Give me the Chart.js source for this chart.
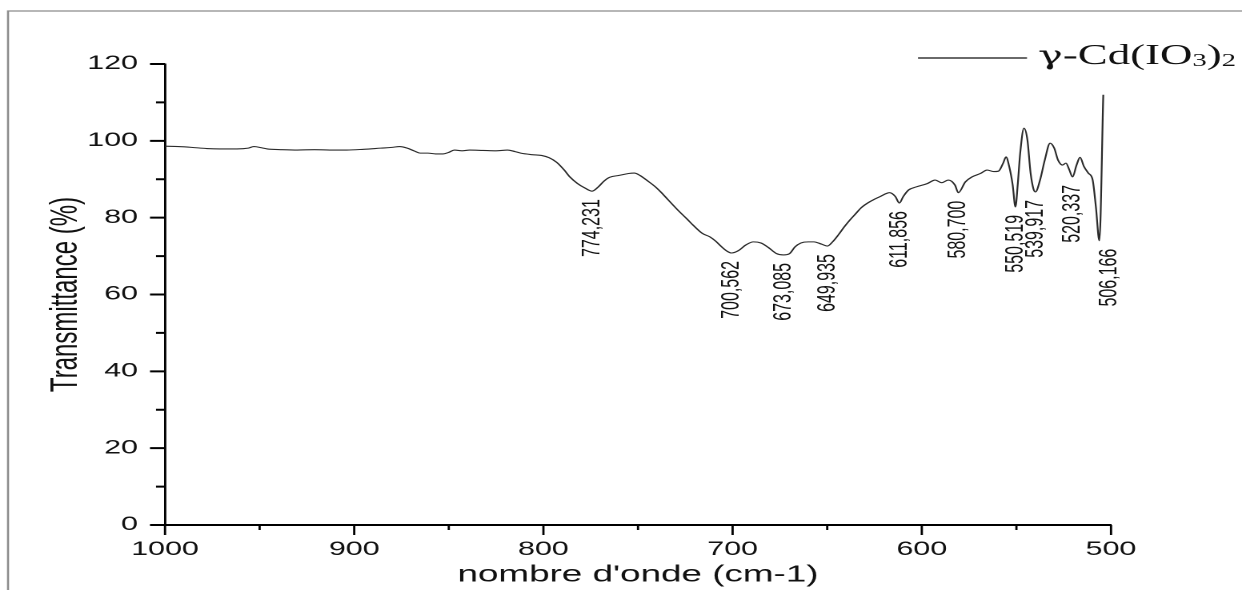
<!DOCTYPE html>
<html>
<head>
<meta charset="utf-8">
<script src="https://cdn.jsdelivr.net/npm/chart.js@4.4.1/dist/chart.umd.min.js"></script>
<style>
  html, body { margin: 0; padding: 0; background: #fff; overflow: hidden; }
  /* the figure is drawn narrow and widened, like the exported plot */
  #wrap { width: 776px; height: 590px; transform: scaleX(1.60052); transform-origin: 0 0; }
</style>
</head>
<body>
<div id="wrap"><canvas id="irChart" width="776" height="590"></canvas></div>
<script>
const SX = 1242 / 776;

// IR spectrum, wavenumber (cm-1) vs transmittance (%)
const wavenumbers = [
    1000, 993, 986, 978, 971, 962, 956, 953, 949, 946,
    938, 930, 921, 913, 904, 895, 886, 880, 876, 872,
    868, 865, 861, 857, 853, 850, 847, 843, 839, 832,
    825, 819, 815, 812, 806, 801, 797, 793, 789, 786,
    782, 778, 774.231, 771, 768, 765, 760, 755, 752, 749,
    745, 741, 738, 734, 729, 724, 721, 716, 712, 709,
    706, 703, 700.562, 697, 693, 689, 685, 681, 677, 673.085,
    670, 667, 664, 660, 657, 653, 649.935, 647, 644, 641,
    638, 635, 632, 628, 625, 622, 617, 614, 611.856, 609.8,
    607, 603, 597, 593, 589.5, 586, 582.5, 580.7, 577, 573.5,
    569, 565.5, 562, 559.5, 557, 555.5, 553.8, 552, 550.519, 549.3,
    548, 546, 544.2, 542.5, 541, 539.917, 537.5, 535, 532.2, 530,
    528, 525.6, 523.8, 522, 520.337, 518.2, 516.4, 514.3, 512, 509.7,
    508, 506.166, 504.1
];
const transmittance = [
    98.6, 98.5, 98.3, 98.0, 97.9, 97.9, 98.1, 98.5, 98.2, 97.9,
    97.7, 97.6, 97.7, 97.6, 97.6, 97.8, 98.1, 98.3, 98.5, 98.1,
    97.3, 96.8, 96.8, 96.6, 96.6, 97.0, 97.6, 97.4, 97.6, 97.5,
    97.4, 97.6, 97.2, 96.8, 96.4, 96.2, 95.6, 94.4, 92.4, 90.6,
    88.9, 87.7, 86.9, 88.0, 89.5, 90.5, 91.0, 91.5, 91.6, 91.0,
    89.6, 88.1, 86.7, 84.6, 82.0, 79.6, 78.1, 75.9, 75.0, 73.9,
    72.5, 71.3, 70.8, 71.4, 72.9, 73.7, 73.4, 72.2, 70.7, 70.3,
    70.6, 72.4, 73.4, 73.7, 73.7, 73.1, 72.6, 73.8, 75.6, 77.6,
    79.4, 81.0, 82.6, 84.0, 84.8, 85.5, 86.5, 85.5, 83.8, 85.5,
    87.2, 88.0, 88.9, 89.8, 89.1, 89.8, 88.5, 86.5, 89.3, 90.6,
    91.5, 92.4, 92.0, 92.1, 94.2, 95.8, 93.3, 88.6, 82.8, 88.6,
    96.8, 103.3, 100.3, 91.6, 87.5, 86.7, 89.8, 95.0, 99.4, 98.1,
    95.0, 93.7, 94.2, 92.4, 90.6, 93.7, 95.7, 93.3, 91.6, 89.8,
    82.8, 74.0, 112.0
];

// labelled absorption bands
const peakWavenumbers = [774.231, 700.562, 673.085, 649.935, 611.856, 580.700, 550.519, 539.917, 520.337, 506.166];

const xTickValues = [1000, 900, 800, 700, 600, 500];
const xMinorTicks = [950, 850, 750, 650, 550];
const yTickValues = [0, 20, 40, 60, 80, 100, 120];
const yMinorTicks = [10, 30, 50, 70, 90, 110];

// key text pieces: [text, subscript?]
const seriesName = [['γ', false], ['-Cd(IO', false], ['3', true], [')', false], ['2', true]];

const sansFont = "'Liberation Sans', Arial, sans-serif";
const serifFont = "'Liberation Serif', 'Times New Roman', serif";

const spectrum = wavenumbers.map((w, i) => ({ x: w, y: transmittance[i] }));

function valueAt(w) {
    const i = wavenumbers.indexOf(w);
    return i >= 0 ? transmittance[i] : null;
}

// outer figure frame (left and top edges)
const framePlugin = {
    id: 'frame',
    beforeDraw(chart) {
        const ctx = chart.ctx;
        ctx.save();
        ctx.strokeStyle = '#8c8c8c';
        ctx.lineWidth = 1.3;
        ctx.beginPath();
        ctx.moveTo(8 / SX, 590);
        ctx.lineTo(8 / SX, 11);
        ctx.lineTo(776, 11);
        ctx.stroke();
        ctx.restore();
    }
};

// major and minor tick marks, drawn outward
const tickMarks = {
    id: 'tickMarks',
    afterDraw(chart) {
        const { ctx, chartArea } = chart;
        const x = chart.scales.x;
        const y = chart.scales.y;
        ctx.save();
        ctx.strokeStyle = '#000';

        ctx.lineWidth = 1.4;
        ctx.beginPath();
        xTickValues.forEach(v => {
            const px = x.getPixelForValue(v);
            ctx.moveTo(px, chartArea.bottom);
            ctx.lineTo(px, chartArea.bottom + 10);
        });
        xMinorTicks.forEach(v => {
            const px = x.getPixelForValue(v);
            ctx.moveTo(px, chartArea.bottom);
            ctx.lineTo(px, chartArea.bottom + 5);
        });
        ctx.stroke();

        ctx.lineWidth = 2;
        ctx.beginPath();
        yTickValues.forEach(v => {
            const py = y.getPixelForValue(v);
            ctx.moveTo(chartArea.left - 15 / SX, py);
            ctx.lineTo(chartArea.left, py);
        });
        yMinorTicks.forEach(v => {
            const py = y.getPixelForValue(v);
            ctx.moveTo(chartArea.left - 9 / SX, py);
            ctx.lineTo(chartArea.left, py);
        });
        ctx.stroke();
        ctx.restore();
    }
};

// rotated wavenumber labels under each band
const peakLabels = {
    id: 'peakLabels',
    afterDatasetsDraw(chart) {
        const { ctx } = chart;
        const x = chart.scales.x;
        const y = chart.scales.y;
        ctx.save();
        ctx.fillStyle = '#111';
        ctx.font = `16px ${sansFont}`;
        ctx.textAlign = 'right';
        ctx.textBaseline = 'middle';
        peakWavenumbers.forEach(w => {
            const t = valueAt(w);
            let px = x.getPixelForValue(w);
            const py = y.getPixelForValue(t) + 8;
            if (w < 510) px += 6;
            ctx.save();
            ctx.translate(px, py);
            ctx.rotate(-Math.PI / 2);
            ctx.fillText(w.toFixed(3).replace('.', ','), 0, 0);
            ctx.restore();
        });
        ctx.restore();
    }
};

// series key with subscripts, top right
const seriesKey = {
    id: 'seriesKey',
    afterDraw(chart) {
        const ctx = chart.ctx;
        ctx.save();
        ctx.strokeStyle = '#111';
        ctx.lineWidth = 1.3;
        ctx.beginPath();
        ctx.moveTo(918 / SX, 58);
        ctx.lineTo(1027 / SX, 58);
        ctx.stroke();

        ctx.fillStyle = '#111';
        ctx.textBaseline = 'alphabetic';
        ctx.textAlign = 'left';
        let tx = 1038 / SX;
        seriesName.forEach(([part, sub], i) => {
            if (i === 0) {
                ctx.font = "26px 'DejaVu Serif', serif";
            } else {
                ctx.font = `${sub ? 18 : 28}px ${serifFont}`;
            }
            ctx.fillText(part, tx, sub ? 66 : 64);
            tx += ctx.measureText(part).width;
        });
        ctx.restore();
    }
};

new Chart(document.getElementById('irChart'), {
    type: 'line',
    data: {
        datasets: [{
            label: 'γ-Cd(IO3)2',
            data: spectrum,
            borderColor: '#2a2a2a',
            borderWidth: 1.1,
            pointRadius: 0,
            fill: false,
            cubicInterpolationMode: 'monotone'
        }]
    },
    options: {
        responsive: false,
        animation: false,
        devicePixelRatio: 2,
        layout: {
            padding: { top: 64, right: 776 - 1111 / SX, left: 0, bottom: 0 }
        },
        plugins: {
            legend: { display: false },
            tooltip: { enabled: false }
        },
        scales: {
            x: {
                type: 'linear',
                min: 500,
                max: 1000,
                reverse: true,
                afterBuildTicks: scale => { scale.ticks = xTickValues.map(v => ({ value: v })); },
                afterFit: scale => { scale.height = 65; },
                grid: { display: false, drawTicks: true, tickLength: 6 },
                border: { display: true, color: '#000', width: 2 },
                ticks: {
                    padding: 7.6,
                    maxRotation: 0,
                    color: '#111',
                    font: { family: sansFont, size: 19 },
                    callback: v => String(v)
                },
                title: {
                    display: true,
                    text: "nombre d'onde (cm-1)",
                    color: '#111',
                    font: { family: sansFont, size: 23 },
                    padding: { top: 0, bottom: 1.2 }
                }
            },
            y: {
                min: 0,
                max: 120,
                afterBuildTicks: scale => { scale.ticks = yTickValues.map(v => ({ value: v })); },
                afterFit: scale => { scale.width = 165 / SX; },
                grid: { display: false, drawTicks: true, tickLength: 15 / SX },
                border: { display: true, color: '#000', width: 1.4 },
                ticks: {
                    padding: 7.5,
                    color: '#111',
                    font: { family: sansFont, size: 19 },
                    callback: v => String(v)
                },
                title: {
                    display: true,
                    text: 'Transmittance (%)',
                    color: '#111',
                    font: { family: sansFont, size: 24 },
                    padding: { top: 27.1, bottom: 0 }
                }
            }
        }
    },
    plugins: [framePlugin, tickMarks, peakLabels, seriesKey]
});
</script>
</body>
</html>
